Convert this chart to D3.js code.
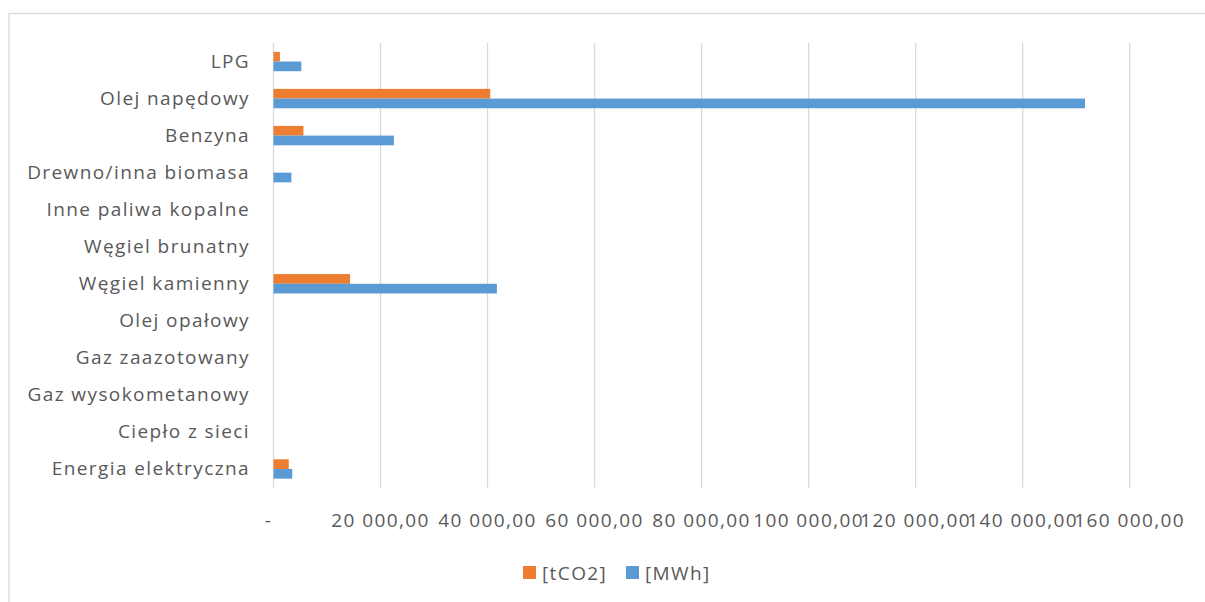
<!DOCTYPE html>
<html lang="pl">
<head>
<meta charset="UTF-8">
<title>Emisje i zużycie energii</title>
<script src="https://d3js.org/d3.v7.min.js"></script>
<style>
    body { margin: 0; background: #fff; }
    svg { display: block; }
    text { font-family: "Open Sans", Lato, sans-serif; fill: #595959; font-size: 19px; letter-spacing: 1.4px; }
</style>
</head>
<body>
<svg width="1205" height="602"></svg>
<script>
    // dane
    const categories = ["LPG", "Olej napędowy", "Benzyna", "Drewno/inna biomasa", "Inne paliwa kopalne",
        "Węgiel brunatny", "Węgiel kamienny", "Olej opałowy", "Gaz zaazotowany", "Gaz wysokometanowy",
        "Ciepło z sieci", "Energia elektryczna"];
    const tco2 = [1200, 40500, 5600, 0, 0, 0, 14300, 0, 0, 0, 0, 2850];
    const mwh = [5200, 151650, 22500, 3350, 0, 0, 41750, 0, 0, 0, 0, 3500];
    const seriesNames = ["[tCO2]", "[MWh]"];
    const seriesColors = ["#ED7D31", "#5B9BD5"];
    const xTicks = [0, 20000, 40000, 60000, 80000, 100000, 120000, 140000, 160000];

    const svg = d3.select("svg");
    const margin = { left: 273.5, right: 1129.7, top: 43, bottom: 487.5 };

    // ramka wykresu
    svg.append("rect")
        .attr("x", 9).attr("y", 13.5)
        .attr("width", 1230).attr("height", 620)
        .attr("fill", "none").attr("stroke", "#D9D9D9").attr("stroke-width", 1.3);

    const x = d3.scaleLinear().domain([0, 160000]).range([margin.left, margin.right]);
    const y = d3.scaleBand().domain(categories).range([margin.top, margin.bottom]);
    const inner = d3.scaleBand().domain(seriesNames).range([0, 19.4]);
    const fmt = v => v === 0 ? "-" : d3.format(",.2f")(v).replace(/,/g, " ").replace(".", ",");

    // siatka
    svg.append("g").selectAll("line")
        .data(xTicks)
        .join("line")
        .attr("x1", d => x(d)).attr("x2", d => x(d))
        .attr("y1", margin.top).attr("y2", margin.bottom)
        .attr("stroke", "#D9D9D9").attr("stroke-width", 1.3);

    // etykiety osi X
    svg.append("g").selectAll("text")
        .data(xTicks)
        .join("text")
        .attr("x", d => d === 0 ? x(d) - 5 : x(d))
        .attr("y", 527)
        .attr("text-anchor", "middle")
        .text(fmt);

    // etykiety kategorii
    svg.append("g").selectAll("text")
        .data(categories)
        .join("text")
        .attr("x", 250)
        .attr("y", d => y(d) + y.bandwidth() / 2 + 6.5)
        .attr("text-anchor", "end")
        .text(d => d);

    // słupki
    const series = [tco2, mwh];
    series.forEach((values, si) => {
        svg.append("g").selectAll("rect")
            .data(categories.map((c, i) => ({ c, v: values[i] })).filter(d => d.v > 0))
            .join("rect")
            .attr("x", x(0))
            .attr("y", d => y(d.c) + y.bandwidth() / 2 - 9.7 + inner(seriesNames[si]))
            .attr("width", d => x(d.v) - x(0))
            .attr("height", inner.bandwidth())
            .attr("fill", seriesColors[si]);
    });

    // legenda
    const legend = svg.append("g");
    const legendX = [523, 626];
    seriesNames.forEach((name, i) => {
        legend.append("rect")
            .attr("x", legendX[i]).attr("y", 566)
            .attr("width", 13).attr("height", 13)
            .attr("fill", seriesColors[i]);
        legend.append("text")
            .attr("x", legendX[i] + 19).attr("y", 580)
            .text(name);
    });
</script>
</body>
</html>
